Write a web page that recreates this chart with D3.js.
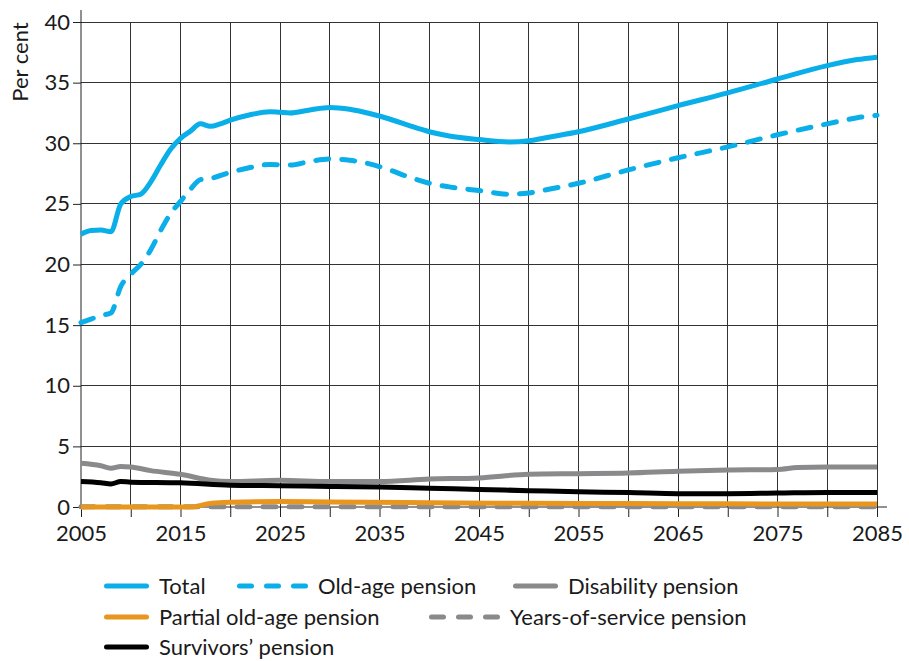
<!DOCTYPE html>
<html>
<head>
<meta charset="utf-8">
<script src="https://cdn.jsdelivr.net/npm/d3@7"></script>
<style>
  body { margin: 0; background: #fff; }
  text { font-family: Lato, "Open Sans", sans-serif; fill: #1a1a1a; }
</style>
</head>
<body>
<script>
// key points (per cent), one value per listed year
var totalYears = [2005,2006,2007,2008,2009,2010,2011,2012,2013,2014,2015,2016,2017,2018,2019,2020,2022,2024,2025,2026,2028,2030,2032,2034,2036,2038,2040,2042,2045,2048,2050,2052,2055,2060,2065,2070,2075,2080,2083,2085];
var totalVals  = [22.5,22.8,22.85,22.7,25.0,25.6,25.8,26.8,28.2,29.5,30.4,31.0,31.6,31.4,31.6,31.9,32.35,32.6,32.55,32.5,32.75,32.95,32.8,32.45,32.0,31.45,30.95,30.6,30.3,30.1,30.2,30.5,30.95,32.0,33.1,34.15,35.3,36.4,36.9,37.1];

var oldAgeYears = [2005,2006,2007,2008,2009,2010,2011,2012,2013,2014,2015,2016,2017,2018,2020,2022,2024,2026,2028,2030,2032,2034,2036,2038,2040,2042,2045,2048,2050,2052,2055,2060,2065,2070,2075,2080,2083,2085];
var oldAgeVals  = [15.2,15.5,15.8,16.0,18.2,19.2,20.0,21.2,22.8,24.2,25.2,26.2,27.0,27.1,27.6,28.0,28.25,28.2,28.5,28.7,28.6,28.3,27.8,27.2,26.7,26.4,26.1,25.8,25.9,26.2,26.7,27.8,28.8,29.7,30.7,31.6,32.1,32.3];

var disabYears = [2005,2007,2008,2009,2010,2012,2015,2018,2020,2025,2030,2035,2040,2045,2050,2055,2060,2065,2070,2075,2077,2080,2085];
var disabVals  = [3.6,3.4,3.2,3.35,3.3,3.0,2.7,2.2,2.1,2.2,2.1,2.1,2.3,2.4,2.7,2.75,2.8,2.95,3.05,3.1,3.25,3.3,3.3];

var partialYears = [2005,2016,2018,2020,2025,2030,2040,2050,2060,2070,2085];
var partialVals  = [0,0,0.3,0.4,0.45,0.42,0.35,0.3,0.28,0.26,0.25];

var serviceYears = [2005,2085];
var serviceVals  = [0.03,0.03];

var survYears = [2005,2007,2008,2009,2010,2015,2020,2025,2030,2035,2040,2045,2050,2055,2060,2065,2070,2075,2080,2085];
var survVals  = [2.1,2.0,1.9,2.1,2.05,2.0,1.8,1.75,1.7,1.65,1.55,1.45,1.35,1.25,1.2,1.1,1.1,1.15,1.2,1.2];

var xTicks = d3.range(2005, 2086, 10);
var xGrid = d3.range(2005, 2086, 5);
var yTicks = d3.range(0, 41, 5);

var series = [
  {name: 'Total', x: totalYears, y: totalVals, color: '#0aaee8', dash: null},
  {name: 'Old-age pension', x: oldAgeYears, y: oldAgeVals, color: '#0aaee8', dash: '13,13'},
  {name: 'Disability pension', x: disabYears, y: disabVals, color: '#8a8a8c', dash: null},
  {name: 'Partial old-age pension', x: partialYears, y: partialVals, color: '#e8961e', dash: null},
  {name: 'Years-of-service pension', x: serviceYears, y: serviceVals, color: '#8a8a8c', dash: '13,13'},
  {name: 'Survivors\u2019 pension', x: survYears, y: survVals, color: '#000000', dash: null}
];

var W = 909, H = 661;
var margin = {top: 22, right: 32, bottom: 154, left: 81},
    width = W - margin.left - margin.right,
    height = H - margin.top - margin.bottom;

var xScale = d3.scaleLinear().domain([2005, 2085]).range([0, width]),
    yScale = d3.scaleLinear().domain([0, 40]).range([height, 0]);

var svg = d3.select('body').append('svg')
    .attr('width', W)
    .attr('height', H);

var g = svg.append('g')
    .attr('transform', 'translate(' + margin.left + ',' + margin.top + ')');

// grid
g.append('g').selectAll('line').data(yTicks.filter(function(d) { return d > 0; })).enter()
  .append('line')
  .attr('x1', 0).attr('x2', width)
  .attr('y1', function(d) { return yScale(d); })
  .attr('y2', function(d) { return yScale(d); })
  .attr('stroke', '#333').attr('stroke-width', 1).attr('shape-rendering', 'crispEdges');

g.append('g').selectAll('line').data(xGrid.slice(1)).enter()
  .append('line')
  .attr('x1', function(d) { return xScale(d); })
  .attr('x2', function(d) { return xScale(d); })
  .attr('y1', yScale(40)).attr('y2', height)
  .attr('stroke', '#333').attr('stroke-width', 1).attr('shape-rendering', 'crispEdges');

// y axis
var yAxis = g.append('g')
  .call(d3.axisLeft(yScale).tickValues(yTicks).tickSize(8).tickPadding(3).tickSizeOuter(0));
yAxis.select('.domain').attr('d', 'M0,' + height + 'V-12').attr('stroke', '#222');
yAxis.selectAll('text').style('font-size', '22px');
yAxis.selectAll('line').attr('stroke', '#222');

// x axis
var xAxis = g.append('g')
  .attr('transform', 'translate(0,' + height + ')')
  .call(d3.axisBottom(xScale).tickValues(xGrid).tickSize(10).tickFormat(function(d) { return xTicks.indexOf(d) >= 0 ? d : ''; }).tickSizeOuter(0));
xAxis.select('.domain').attr('d', 'M0,0H' + (width + 10)).attr('stroke', '#222');
xAxis.selectAll('text').style('font-size', '22px').attr('dy', '0.95em');
xAxis.selectAll('line').attr('stroke', '#222');

// y label
svg.append('text')
  .attr('transform', 'translate(28,62) rotate(-90)')
  .attr('text-anchor', 'middle')
  .style('font-size', '22px')
  .text('Per cent');

var line = d3.line()
  .x(function(d) { return xScale(d[0]); })
  .y(function(d) { return yScale(d[1]); })
  .curve(d3.curveMonotoneX);

// draw lines, bottom ones first
[4, 3, 2, 5, 1, 0].forEach(function(i) {
  var s = series[i];
  g.append('path')
    .datum(d3.zip(s.x, s.y))
    .attr('d', line)
    .attr('fill', 'none')
    .attr('stroke', s.color)
    .attr('stroke-width', 5)
    .attr('stroke-linecap', s.dash ? 'round' : 'butt')
    .attr('stroke-linejoin', 'round')
    .attr('stroke-dasharray', s.dash);
});

// legend
var legendPos = [
  {x: 106.5, y: 586, len: 40, tx: 159},
  {x: 239.5, y: 586, len: 66, tx: 318},
  {x: 515.5, y: 586, len: 40, tx: 568},
  {x: 106.5, y: 617, len: 40, tx: 159},
  {x: 431.5, y: 617, len: 66, tx: 510},
  {x: 106.5, y: 647, len: 40, tx: 159}
];
var legend = svg.append('g');
series.forEach(function(s, i) {
  var p = legendPos[i];
  legend.append('line')
    .attr('x1', p.x).attr('x2', p.x + p.len)
    .attr('y1', p.y).attr('y2', p.y)
    .attr('stroke', s.color).attr('stroke-width', 5)
    .attr('stroke-linecap', 'round')
    .attr('stroke-dasharray', s.dash ? '12,15' : null);
  legend.append('text')
    .attr('x', p.tx).attr('y', p.y)
    .attr('dy', '0.35em')
    .style('font-size', '22px')
    .text(s.name);
});
</script>
</body>
</html>
